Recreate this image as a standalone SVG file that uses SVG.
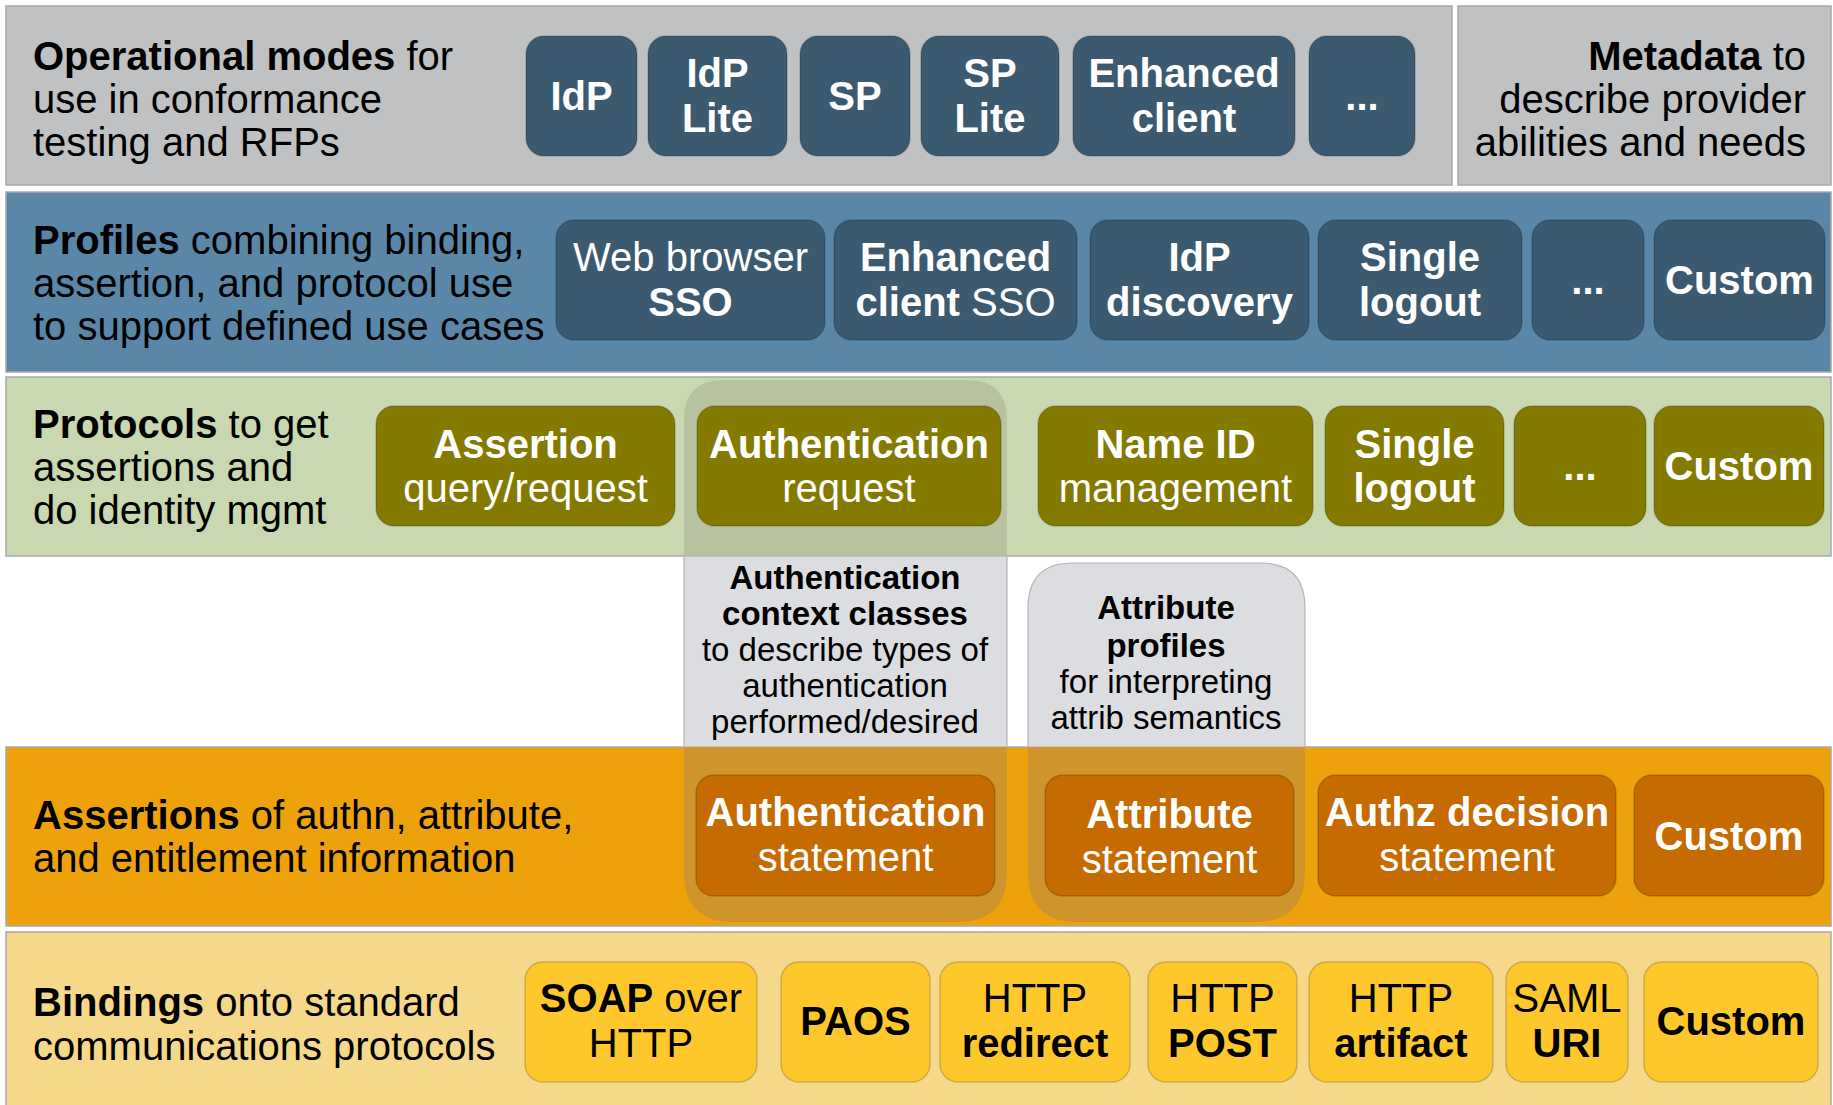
<svg xmlns="http://www.w3.org/2000/svg" width="1833" height="1105" viewBox="0 0 1833 1105">
<style>
text{font-family:"Liberation Sans",Arial,sans-serif;font-size:40px;}
.b{font-weight:bold;}
.w{fill:#ffffff;text-anchor:middle;}
.k{fill:#000000;text-anchor:middle;}
.lbl{fill:#000000;}
.band{stroke:#a8a8a8;stroke-width:1.5;}
.box{stroke-width:1.5;stroke-opacity:0.18;stroke:#000;}
.sm{font-size:33px;}
</style>
<rect width="1833" height="1105" fill="#ffffff"/>
<!-- bands -->
<g id="bands">
<rect class="band" x="6" y="6" width="1446" height="179" fill="#c0c1c3"/>
<rect class="band" x="1458" y="6" width="373" height="179" fill="#c0c1c3"/>
<rect class="band" x="6" y="192" width="1825" height="180" fill="#5a87a8"/>
<rect class="band" x="6" y="377" width="1825" height="179" fill="#c9d8b0"/>
<rect class="band" x="6" y="747" width="1825" height="179" fill="#eda20c"/>
<rect class="band" x="6" y="932" width="1825" height="180" fill="#f6d88a"/>
</g>
<!-- highlight columns -->
<g id="auth-context-column">
<path d="M684,556 V420 Q684,380 724,380 H967 Q1007,380 1007,420 V556 Z" fill="#b7c2a1"/>
<rect x="684" y="556" width="323" height="191" fill="#dcdde0" stroke="#b4b4b4" stroke-width="1.2"/>
<path d="M684,747 V872 Q684,922 734,922 H957 Q1007,922 1007,872 V747 Z" fill="#cf942b"/>
<text class="k b sm" x="845" y="589">Authentication</text>
<text class="k b sm" x="845" y="625">context classes</text>
<text class="k sm" x="845" y="661">to describe types of</text>
<text class="k sm" x="845" y="697">authentication</text>
<text class="k sm" x="845" y="733">performed/desired</text>
</g>
<g id="attribute-profiles-column">
<path d="M1028,747 V608 Q1028,563 1073,563 H1260 Q1305,563 1305,608 V747 Z" fill="#dcdde0" stroke="#b4b4b4" stroke-width="1.2"/>
<path d="M1028,747 V872 Q1028,922 1078,922 H1255 Q1305,922 1305,872 V747 Z" fill="#cf942b"/>
<text class="k b sm" x="1166" y="619">Attribute</text>
<text class="k b sm" x="1166" y="657">profiles</text>
<text class="k sm" x="1166" y="693">for interpreting</text>
<text class="k sm" x="1166" y="729">attrib semantics</text>
</g>
<!-- layer labels -->
<g id="label-operational-modes">
<text class="lbl" x="33" y="70"><tspan class="b">Operational modes</tspan> for</text>
<text class="lbl" x="33" y="113">use in conformance</text>
<text class="lbl" x="33" y="156">testing and RFPs</text>
</g>
<g id="label-metadata">
<text class="lbl" x="1806" y="70" text-anchor="end"><tspan class="b">Metadata</tspan> to</text>
<text class="lbl" x="1806" y="113" text-anchor="end">describe provider</text>
<text class="lbl" x="1806" y="156" text-anchor="end">abilities and needs</text>
</g>
<g id="label-profiles">
<text class="lbl" x="33" y="254"><tspan class="b">Profiles</tspan> combining binding,</text>
<text class="lbl" x="33" y="297">assertion, and protocol use</text>
<text class="lbl" x="33" y="340">to support defined use cases</text>
</g>
<g id="label-protocols">
<text class="lbl" x="33" y="438"><tspan class="b">Protocols</tspan> to get</text>
<text class="lbl" x="33" y="481">assertions and</text>
<text class="lbl" x="33" y="524">do identity mgmt</text>
</g>
<g id="label-assertions">
<text class="lbl" x="33" y="829"><tspan class="b">Assertions</tspan> of authn, attribute,</text>
<text class="lbl" x="33" y="872">and entitlement information</text>
</g>
<g id="label-bindings">
<text class="lbl" x="33" y="1016"><tspan class="b">Bindings</tspan> onto standard</text>
<text class="lbl" x="33" y="1060">communications protocols</text>
</g>
<!-- Row 1: operational modes -->
<g id="mode-idp"><rect class="box" x="526" y="36" width="111" height="120" rx="18" fill="#3b5a70"/><text class="w b" x="581.5" y="110">IdP</text></g>
<g id="mode-idp-lite"><rect class="box" x="648" y="36" width="139" height="120" rx="18" fill="#3b5a70"/><text class="w b" x="717.5" y="87">IdP</text><text class="w b" x="717.5" y="132">Lite</text></g>
<g id="mode-sp"><rect class="box" x="800" y="36" width="110" height="120" rx="18" fill="#3b5a70"/><text class="w b" x="855" y="110">SP</text></g>
<g id="mode-sp-lite"><rect class="box" x="921" y="36" width="138" height="120" rx="18" fill="#3b5a70"/><text class="w b" x="990" y="87">SP</text><text class="w b" x="990" y="132">Lite</text></g>
<g id="mode-enhanced-client"><rect class="box" x="1073" y="36" width="222" height="120" rx="18" fill="#3b5a70"/><text class="w b" x="1184" y="87">Enhanced</text><text class="w b" x="1184" y="132">client</text></g>
<g id="mode-more"><rect class="box" x="1309" y="36" width="106" height="120" rx="18" fill="#3b5a70"/><text class="w b" x="1362" y="110">...</text></g>
<!-- Row 2: profiles -->
<g id="profile-web-sso"><rect class="box" x="556" y="220" width="269" height="120" rx="18" fill="#3b5a70"/><text class="w" x="690.5" y="271">Web browser</text><text class="w b" x="690.5" y="316">SSO</text></g>
<g id="profile-ecp-sso"><rect class="box" x="834" y="220" width="243" height="120" rx="18" fill="#3b5a70"/><text class="w b" x="955.5" y="271">Enhanced</text><text class="w" x="955.5" y="316"><tspan class="b">client</tspan> SSO</text></g>
<g id="profile-idp-discovery"><rect class="box" x="1090" y="220" width="219" height="120" rx="18" fill="#3b5a70"/><text class="w b" x="1199.5" y="271">IdP</text><text class="w b" x="1199.5" y="316">discovery</text></g>
<g id="profile-single-logout"><rect class="box" x="1318" y="220" width="204" height="120" rx="18" fill="#3b5a70"/><text class="w b" x="1420" y="271">Single</text><text class="w b" x="1420" y="316">logout</text></g>
<g id="profile-more"><rect class="box" x="1532" y="220" width="112" height="120" rx="18" fill="#3b5a70"/><text class="w b" x="1588" y="294">...</text></g>
<g id="profile-custom"><rect class="box" x="1654" y="220" width="171" height="120" rx="18" fill="#3b5a70"/><text class="w b" x="1739.5" y="294">Custom</text></g>
<!-- Row 3: protocols -->
<g id="protocol-assertion-query"><rect class="box" x="376" y="406" width="299" height="120" rx="18" fill="#857a00"/><text class="w b" x="525.5" y="458">Assertion</text><text class="w" x="525.5" y="502">query/request</text></g>
<g id="protocol-authn-request"><rect class="box" x="697" y="406" width="304" height="120" rx="18" fill="#857a00"/><text class="w b" x="849" y="458">Authentication</text><text class="w" x="849" y="502">request</text></g>
<g id="protocol-name-id"><rect class="box" x="1038" y="406" width="275" height="120" rx="18" fill="#857a00"/><text class="w b" x="1175.5" y="458">Name ID</text><text class="w" x="1175.5" y="502">management</text></g>
<g id="protocol-single-logout"><rect class="box" x="1325" y="406" width="179" height="120" rx="18" fill="#857a00"/><text class="w b" x="1414.5" y="458">Single</text><text class="w b" x="1414.5" y="502">logout</text></g>
<g id="protocol-more"><rect class="box" x="1514" y="406" width="132" height="120" rx="18" fill="#857a00"/><text class="w b" x="1580" y="480">...</text></g>
<g id="protocol-custom"><rect class="box" x="1654" y="406" width="170" height="120" rx="18" fill="#857a00"/><text class="w b" x="1739" y="480">Custom</text></g>
<!-- Row 4: assertions -->
<g id="assertion-authn-statement"><rect class="box" x="696" y="775" width="299" height="121" rx="18" fill="#c56b00"/><text class="w b" x="845.5" y="826">Authentication</text><text class="w" x="845.5" y="871">statement</text></g>
<g id="assertion-attribute-statement"><rect class="box" x="1045" y="775" width="249" height="121" rx="18" fill="#c56b00"/><text class="w b" x="1169.5" y="828">Attribute</text><text class="w" x="1169.5" y="873">statement</text></g>
<g id="assertion-authz-statement"><rect class="box" x="1318" y="775" width="298" height="121" rx="18" fill="#c56b00"/><text class="w b" x="1467" y="826">Authz decision</text><text class="w" x="1467" y="871">statement</text></g>
<g id="assertion-custom"><rect class="box" x="1634" y="775" width="190" height="121" rx="18" fill="#c56b00"/><text class="w b" x="1729" y="850">Custom</text></g>
<!-- Row 5: bindings -->
<g id="binding-soap"><rect class="box" x="525" y="962" width="232" height="120" rx="18" fill="#fec82c" stroke-opacity="0.06"/><text class="k" x="641" y="1012"><tspan class="b">SOAP</tspan> over</text><text class="k" x="641" y="1057">HTTP</text></g>
<g id="binding-paos"><rect class="box" x="781" y="962" width="149" height="120" rx="18" fill="#fec82c" stroke-opacity="0.06"/><text class="k b" x="855.5" y="1035">PAOS</text></g>
<g id="binding-http-redirect"><rect class="box" x="940" y="962" width="190" height="120" rx="18" fill="#fec82c" stroke-opacity="0.06"/><text class="k" x="1035" y="1012">HTTP</text><text class="k b" x="1035" y="1057">redirect</text></g>
<g id="binding-http-post"><rect class="box" x="1148" y="962" width="149" height="120" rx="18" fill="#fec82c" stroke-opacity="0.06"/><text class="k" x="1222.5" y="1012">HTTP</text><text class="k b" x="1222.5" y="1057">POST</text></g>
<g id="binding-http-artifact"><rect class="box" x="1309" y="962" width="184" height="120" rx="18" fill="#fec82c" stroke-opacity="0.06"/><text class="k" x="1401" y="1012">HTTP</text><text class="k b" x="1401" y="1057">artifact</text></g>
<g id="binding-saml-uri"><rect class="box" x="1506" y="962" width="122" height="120" rx="18" fill="#fec82c" stroke-opacity="0.06"/><text class="k" x="1567" y="1012">SAML</text><text class="k b" x="1567" y="1057">URI</text></g>
<g id="binding-custom"><rect class="box" x="1644" y="962" width="174" height="120" rx="18" fill="#fec82c" stroke-opacity="0.06"/><text class="k b" x="1731" y="1035">Custom</text></g>
<g id="connectors"/>
</svg>
